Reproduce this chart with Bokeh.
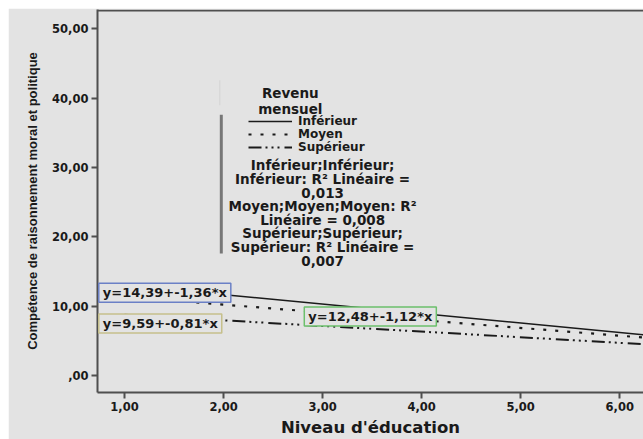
from bokeh.plotting import figure
from bokeh.models import Range1d, FixedTicker, Label, Legend, LegendItem, Span, BoxAnnotation
from bokeh.embed import file_html
from bokeh.resources import INLINE

# ---- data ----
groups = ["Inférieur", "Moyen", "Supérieur"]
intercepts = [14.39, 12.48, 9.59]
slopes = [-1.36, -1.12, -0.81]
r2_values = ["0,013", "0,008", "0,007"]
x_extent = [1.0, 7.0]
x_ticks = [1, 2, 3, 4, 5, 6]
x_tick_labels = ["1,00", "2,00", "3,00", "4,00", "5,00", "6,00"]
y_ticks = [0, 10, 20, 30, 40, 50]
y_tick_labels = [",00", "10,00", "20,00", "30,00", "40,00", "50,00"]

BG = "#e3e3e3"
AX = "#4f4f4f"
TXT = "#1a1a1a"
FONT = "DejaVu Sans"

p = figure(width=635, height=431,
           x_range=Range1d(0.727, 6.24), y_range=Range1d(-2.43, 52.79),
           output_backend="svg", toolbar_location=None,
           min_border_left=89, min_border_right=0, min_border_top=1, min_border_bottom=44)
p.margin = (8, 0, 0, 8)
p.background_fill_color = BG
p.border_fill_color = BG
p.outline_line_color = None
p.grid.visible = False

# axes
for ax in (p.xaxis[0], p.yaxis[0]):
    ax.axis_line_color = AX
    ax.axis_line_width = 2
    ax.major_tick_line_color = AX
    ax.major_tick_line_width = 2
    ax.major_tick_out = 6
    ax.major_tick_in = 0
    ax.minor_tick_line_color = None
    ax.major_label_text_font = FONT
    ax.major_label_text_font_style = "bold"
    ax.major_label_text_font_size = "11.5px"
    ax.major_label_text_color = TXT
    ax.axis_label_text_font_style = "bold"
    ax.axis_label_text_color = TXT

p.xaxis.ticker = FixedTicker(ticks=x_ticks)
p.xaxis.major_label_overrides = dict(zip(x_ticks, x_tick_labels))
p.xaxis.major_label_standoff = 3
p.xaxis.axis_label = "Niveau d'éducation"
p.xaxis.axis_label_text_font = FONT
p.xaxis.axis_label_text_font_size = "16.5px"
p.xaxis.axis_label_standoff = 4

p.yaxis.ticker = FixedTicker(ticks=y_ticks)
p.yaxis.major_label_overrides = dict(zip(y_ticks, y_tick_labels))
p.yaxis.major_label_standoff = 3
p.yaxis.axis_label = "Compétence de raisonnement moral et politique"
p.yaxis.axis_label_text_font = "Liberation Sans"
p.yaxis.axis_label_text_font_size = "13px"
p.yaxis.axis_label_standoff = 9

# top frame line
p.add_layout(Span(location=52.64, dimension="width", line_color=AX, line_width=2))

# fit lines
styles = [dict(line_width=1.5),
          dict(line_width=2.2, line_dash="3 9"),
          dict(line_width=2, line_dash="13 4 2 4 2 4 2 5")]
renderers = []
for a, b, st in zip(intercepts, slopes, styles):
    ys = [a + b * x for x in x_extent]
    r = p.line(x_extent, ys, line_color=TXT, **st)
    renderers.append(r)

# legend: one row per group, stacked tightly like the original
legend_rows_y = [264, 251, 238]
for g, r, ly in zip(groups, renderers, legend_rows_y):
    lg = Legend(items=[LegendItem(label=g, renderers=[r])],
                location=(151, ly), padding=0, margin=0, spacing=0,
                glyph_width=44, glyph_height=12, label_height=12, label_standoff=6,
                label_text_font=FONT, label_text_font_style="bold", label_text_font_size="12px",
                label_text_color=TXT, border_line_color=None, background_fill_alpha=0)
    p.add_layout(lg)

p.add_layout(Label(x=2.674, y=39.6, text="Revenu\nmensuel", text_font=FONT,
                   text_font_style="bold", text_font_size="13.5px", text_color=TXT,
                   text_align="center", text_baseline="middle", text_line_height=0.95))

block = (f"{groups[0]};{groups[0]};\n{groups[0]}: R² Linéaire =\n{r2_values[0]}\n"
         f"{groups[1]};{groups[1]};{groups[1]}: R²\nLinéaire = {r2_values[1]}\n"
         f"{groups[2]};{groups[2]};\n{groups[2]}: R² Linéaire =\n{r2_values[2]}")
p.add_layout(Label(x=3.0, y=23.45, text=block, text_font=FONT,
                   text_font_style="bold", text_font_size="13.5px", text_color=TXT,
                   text_align="center", text_baseline="middle", text_line_height=0.85))

# legend bar decoration
p.add_layout(BoxAnnotation(left=1.962, right=1.992, bottom=17.6, top=37.6,
                           fill_color="#777777", fill_alpha=1, line_color=None))
p.add_layout(BoxAnnotation(left=1.957, right=1.967, bottom=39.0, top=42.6,
                           fill_color="#d4d4d4", fill_alpha=1, line_color=None))

# equation boxes
box_pos = [(0.74, 11.94), (2.815, 8.51), (0.74, 7.51)]
box_colors = ["#6b80c6", "#6cc06c", "#c6c08c"]
for a, b, (bx, by), c in zip(intercepts, slopes, box_pos, box_colors):
    txt = f"y={a:.2f}+{b:.2f}*x".replace(".", ",")
    p.add_layout(Label(x=bx, y=by, text=txt, text_font=FONT, text_font_style="bold",
                       text_font_size="13px", text_color=TXT, text_align="left",
                       text_baseline="middle", border_line_color=c, border_line_width=1.5,
                       background_fill_color=BG,
                       padding=dict(left=4, right=4, top=2, bottom=2)))

open("out.html", "w").write(file_html(p, INLINE))
